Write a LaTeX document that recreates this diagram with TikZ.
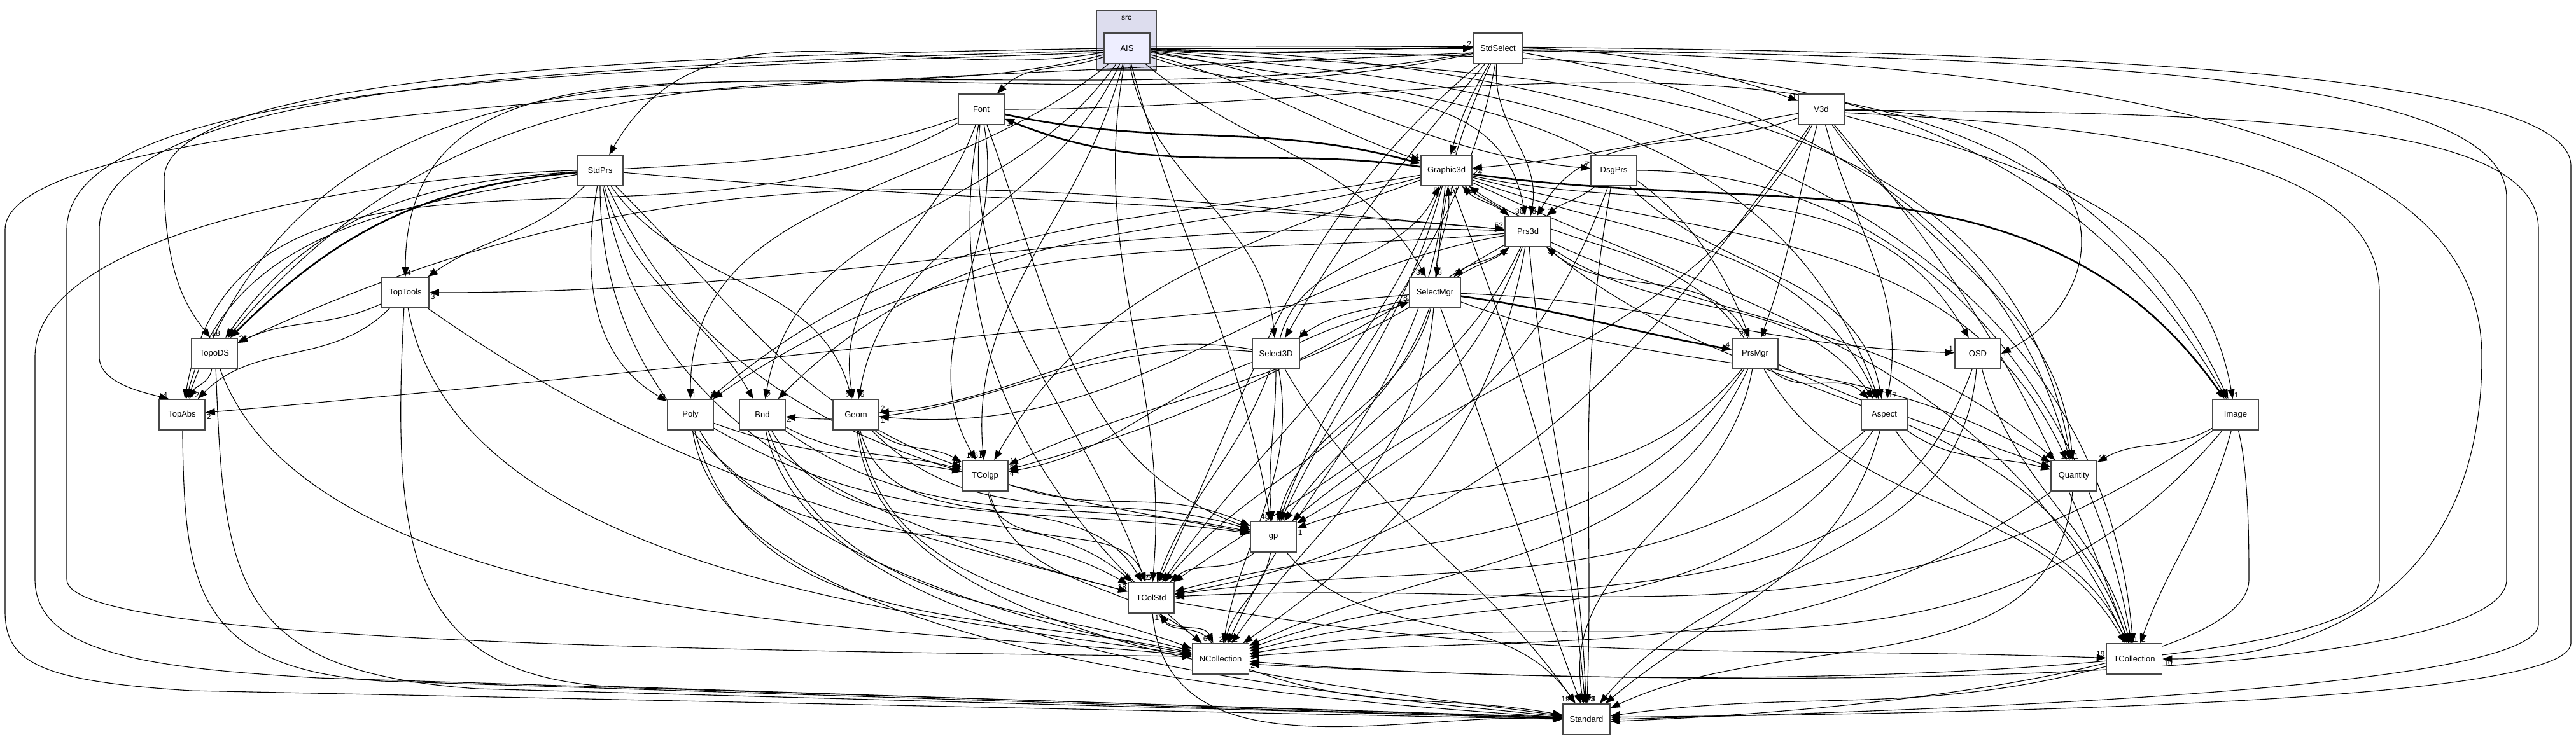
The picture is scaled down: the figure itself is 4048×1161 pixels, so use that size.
\documentclass[tikz,border=0pt]{standalone}
\usepackage{fontspec}
\setmainfont{Liberation Sans}
\usetikzlibrary{arrows.meta,backgrounds}
\definecolor{aisfill}{HTML}{EEEEFF}
\definecolor{clfill}{HTML}{DDDDEE}
\newcommand\dep[6][]{\draw[dep,#1] (#2) to[#4] node[lb,#5]{#6} (#3);}
\newcommand\depn[4][]{\draw[dep,#1] (#2) to[#4] (#3);}
\tikzset{
  box/.style={draw=black!72, line width=0.4pt, fill=white, minimum width=18pt, minimum height=12pt, inner sep=0.25pt, font=\fontsize{3.25}{3.75}\selectfont},
  dep/.style={-{Triangle[length=3.75pt,width=2.75pt]}, line width=0.28pt, black},
  heavy/.style={line width=0.65pt},
  lb/.style={pos=1, font=\fontsize{3}{3.5}\selectfont, inner sep=0.4pt},
  lAL/.style={anchor=south east}, lAR/.style={anchor=south west},
  lBL/.style={anchor=north east}, lBR/.style={anchor=north west},
  lR/.style={anchor=west}, lL/.style={anchor=east}
}
\begin{document}
\begin{tikzpicture}[x=0.25pt,y=0.25pt]
\useasboundingbox (0,0) rectangle (4048,1161);
\node[box,fill=aisfill] (AIS) at (1771,1085) {AIS};
\node[box,minimum width=19.5pt] (StdSelect) at (2354,1085) {StdSelect};
\node[box] (Font) at (1542,989) {Font};
\node[box] (V3d) at (2862,989) {V3d};
\node[box] (StdPrs) at (943,893) {StdPrs};
\node[box,minimum width=20pt] (Graphic3d) at (2273,893) {Graphic3d};
\node[box] (DsgPrs) at (2536,893) {DsgPrs};
\node[box] (Prs3d) at (2401,797) {Prs3d};
\node[box,minimum width=18.5pt] (TopTools) at (637,701) {TopTools};
\node[box,minimum width=20pt] (SelectMgr) at (2255,701) {SelectMgr};
\node[box] (TopoDS) at (337,605) {TopoDS};
\node[box,minimum width=18.5pt] (Select3D) at (2005,605) {Select3D};
\node[box] (PrsMgr) at (2758,605) {PrsMgr};
\node[box] (OSD) at (3108,605) {OSD};
\node[box] (TopAbs) at (286,509) {TopAbs};
\node[box] (Poly) at (1085,509) {Poly};
\node[box] (Bnd) at (1198,509) {Bnd};
\node[box] (Geom) at (1345,509) {Geom};
\node[box] (Aspect) at (2961,509) {Aspect};
\node[box] (Image) at (3513,509) {Image};
\node[box] (TColgp) at (1548,413) {TColgp};
\node[box] (Quantity) at (3259,413) {Quantity};
\node[box] (gp) at (2001,317) {gp};
\node[box] (TColStd) at (1809,221) {TColStd};
\node[box,minimum width=22.25pt] (NCollection) at (1918,125) {NCollection};
\node[box,minimum width=21.75pt] (TCollection) at (3354,125) {TCollection};
\node[box,minimum width=18.5pt] (Standard) at (2493,30) {Standard};
\begin{scope}[on background layer]
\node[draw=black!72, line width=0.4pt, fill=clfill, minimum width=23.5pt, minimum height=23.5pt, inner sep=0pt] (cluster) at (1770,1098) {};
\node[font=\fontsize{3}{3.5}\selectfont] (srclabel) at (1770,1133) {src};
% AIS
\dep{AIS}{StdSelect}{out=0,in=180}{lAL}{2}
\dep{AIS}{V3d}{out=-3,in=160}{lAL}{1}
\dep{AIS}{Font}{out=200,in=45}{lAR}{1}
\dep{AIS}{Graphic3d}{out=-15,in=160}{lAL}{14}
\dep{AIS}{DsgPrs}{out=-8,in=175}{lAL}{7}
\dep{AIS}{Prs3d}{out=-20,in=100}{lAL}{36}
\dep{AIS}{SelectMgr}{out=-40,in=120}{lAL}{39}
\dep{AIS}{Select3D}{out=-80,in=95}{lAL}{1}
\dep{AIS}{PrsMgr}{out=-10,in=110}{lAL}{24}
\dep{AIS}{Aspect}{out=-6,in=110}{lAL}{3}
\dep{AIS}{Quantity}{out=-4,in=100}{lAL}{2}
\dep{AIS}{Image}{out=-2,in=120}{lAL}{1}
\dep{AIS}{TCollection}{out=-1,in=95}{lAL}{8}
\dep{AIS}{TColStd}{out=-100,in=85}{lAL}{5}
\dep{AIS}{gp}{out=-75,in=100}{lAL}{48}
\dep{AIS}{TColgp}{out=-105,in=95}{lAL}{61}
\dep{AIS}{Geom}{out=-115,in=80}{lAR}{6}
\dep{AIS}{Bnd}{out=-125,in=80}{lAR}{2}
\dep{AIS}{Poly}{out=-140,in=90}{lAR}{1}
\dep{AIS}{StdPrs}{out=190,in=60}{lAR}{1}
\dep{AIS}{TopTools}{out=195,in=90}{lAR}{4}
\draw[dep] (AIS.180) .. controls (1200,1075) and (258,1060) .. (258,880) .. controls (258,720) and (300,670) .. (TopoDS.105) node[lb,lAR]{18};
\draw[dep] (AIS.185) .. controls (1000,1060) and (156,1040) .. (156,800) -- (156,600) .. controls (156,560) and (220,545) .. (TopAbs.130) node[lb,lAL]{4};
\draw[dep] (AIS.190) .. controls (900,1050) and (105,1030) .. (105,800) -- (105,250) .. controls (105,160) and (900,140) .. (NCollection.175) node[lb,lAL]{58};
\draw[dep] (AIS.5) .. controls (3000,1090) and (4040,1070) .. (4040,900) -- (4040,150) .. controls (4040,60) and (3200,40) .. (Standard.5);
% StdSelect
\dep{StdSelect}{Graphic3d}{out=-120,in=75}{lAR}{3}
\dep{StdSelect}{Prs3d}{out=-95,in=80}{lAR}{3}
\dep{StdSelect}{SelectMgr}{out=-115,in=85}{lAR}{8}
\dep{StdSelect}{Select3D}{out=-130,in=60}{lAR}{2}
\dep{StdSelect}{TColStd}{out=-140,in=65}{lAR}{5}
\dep{StdSelect}{gp}{out=-100,in=70}{lAR}{4}
\dep{StdSelect}{TopoDS}{out=190,in=50}{lAR}{2}
\dep{StdSelect}{TopAbs}{out=192,in=70}{lAR}{4}
\dep{StdSelect}{Quantity}{out=-10,in=105}{lAR}{1}
\draw[dep] (StdSelect.-5) .. controls (3500,1060) and (3900,900) .. (3900,600) .. controls (3900,200) and (3600,125) .. (TCollection.east) node[lb,lBR]{10};
\draw[dep] (StdSelect.190) .. controls (1500,1040) and (8,1000) .. (8,800) -- (8,200) .. controls (8,120) and (60,90) .. (300,75) -- (Standard.180);
\draw[dep] (StdSelect.-3) .. controls (3300,1070) and (3939,1040) .. (3939,850) -- (3939,250) .. controls (3939,90) and (2800,70) .. (NCollection.-10);
% Font
\dep[heavy]{Font}{Graphic3d}{out=-12,in=165}{lAL}{4}
\dep[heavy]{Graphic3d}{Font}{out=172,in=-22}{lBR}{3}
\dep{Font}{TopoDS}{out=200,in=55}{lAR}{2}
\dep{Font}{TopAbs}{out=210,in=80}{lAR}{1}
\dep{Font}{TColgp}{out=-80,in=120}{lAL}{10}
\depn{Font}{gp}{out=-70,in=160}
\depn{Font}{TColStd}{out=-95,in=110}
\depn{Font}{NCollection}{out=-100,in=140}
\dep{Font}{Image}{out=0,in=115}{lAL}{1}
\depn{Font}{Geom}{out=-110,in=100}
% V3d
\dep{V3d}{Graphic3d}{out=190,in=5}{lBR}{24}
\dep{V3d}{Prs3d}{out=200,in=60}{lAR}{3}
\dep{V3d}{PrsMgr}{out=-105,in=70}{lAR}{3}
\dep{V3d}{Aspect}{out=-75,in=80}{lAR}{17}
\dep{V3d}{Image}{out=-15,in=100}{lAR}{1}
\draw[dep] (V3d.east) .. controls (3350,985) and (3330,700) .. (OSD.east) node[lb,lR]{1};
\dep{V3d}{Quantity}{out=-55,in=95}{lAR}{1}
\dep{V3d}{TColStd}{out=-125,in=10}{lBR}{4}
\dep{V3d}{TCollection}{out=-50,in=110}{lAR}{11}
\dep{V3d}{gp}{out=-120,in=40}{lAR}{2}
\draw[dep] (V3d.-2) .. controls (3600,985) and (3989,960) .. (3989,800) -- (3989,180) .. controls (3989,90) and (3300,50) .. (Standard.0);
\draw[dep] (V3d.-8) .. controls (3400,960) and (3739,900) .. (3739,700) -- (3739,250) .. controls (3739,90) and (2600,70) .. (NCollection.-5) node[lb,lBR]{2};
% Graphic3d
\dep{Graphic3d}{Prs3d}{out=-40,in=140}{lAL}{1}
\dep{Graphic3d}{Aspect}{out=-20,in=115}{lAL}{25}
\dep[heavy]{Graphic3d}{Image}{out=-8,in=125}{lAL}{6}
\dep{Graphic3d}{Quantity}{out=-15,in=115}{lAL}{1}
\dep{Graphic3d}{OSD}{out=-12,in=120}{lAL}{2}
\dep{Graphic3d}{TColStd}{out=-110,in=55}{lAR}{6}
\dep{Graphic3d}{NCollection}{out=-95,in=65}{lAR}{22}
\dep{Graphic3d}{Standard}{out=-70,in=95}{lAR}{33}
\dep{Graphic3d}{TCollection}{out=-25,in=115}{lAL}{2}
\dep{Graphic3d}{gp}{out=-105,in=65}{lAR}{4}
\dep{Graphic3d}{Bnd}{out=195,in=45}{lAR}{1}
\dep{Graphic3d}{Poly}{out=190,in=40}{lAR}{2}
\depn{Graphic3d}{TColgp}{out=200,in=60}
% DsgPrs
\dep{DsgPrs}{Prs3d}{out=-140,in=40}{lAR}{25}
\dep{DsgPrs}{Standard}{out=-100,in=88}{lAL}{2}
\depn{DsgPrs}{gp}{out=-110,in=30}
\depn{DsgPrs}{TCollection}{out=0,in=100}
\depn{DsgPrs}{Aspect}{out=-45,in=100}
% StdPrs
\dep{StdPrs}{Prs3d}{out=-5,in=175}{lAL}{52}
\dep{StdPrs}{TopTools}{out=-135,in=35}{lAR}{1}
\dep[heavy]{StdPrs}{TopoDS}{out=185,in=45}{lAR}{3}
\depn{StdPrs}{TopAbs}{out=190,in=75}
\dep{StdPrs}{Poly}{out=-100,in=150}{lAL}{3}
\dep{StdPrs}{Bnd}{out=-75,in=120}{lAL}{1}
\dep{StdPrs}{Geom}{out=-55,in=105}{lAL}{2}
\dep{StdPrs}{TColgp}{out=-45,in=160}{lAL}{5}
\dep{StdPrs}{gp}{out=-65,in=170}{lAL}{57}
\dep{StdPrs}{TColStd}{out=-80,in=165}{lAL}{18}
\depn{StdPrs}{NCollection}{out=-90,in=170}
\draw[dep] (StdPrs.180) .. controls (600,885) and (55,800) .. (55,600) -- (55,250) .. controls (55,130) and (250,110) .. (500,95) -- (Standard.175);
% Prs3d
\dep{Prs3d}{Graphic3d}{out=140,in=-45}{lBR}{25}
\dep{Prs3d}{SelectMgr}{out=-140,in=40}{lAR}{2}
\dep{Prs3d}{TopTools}{out=178,in=0}{lBR}{3}
\dep{Prs3d}{TopoDS}{out=175,in=25}{lAR}{26}
\depn{Prs3d}{Poly}{out=185,in=35}
\dep{Prs3d}{Geom}{out=190,in=-5}{lBR}{1}
\dep{Prs3d}{TColgp}{out=-150,in=15}{lBR}{4}
\dep{Prs3d}{gp}{out=-115,in=55}{lAR}{9}
\dep{Prs3d}{TColStd}{out=-110,in=35}{lAR}{1}
\dep{Prs3d}{NCollection}{out=-100,in=35}{lR}{3}
\dep{Prs3d}{Standard}{out=-85,in=92}{lAR}{23}
\dep{Prs3d}{Aspect}{out=-35,in=125}{lAL}{1}
\dep{Prs3d}{Quantity}{out=-25,in=140}{lAL}{2}
\dep{Prs3d}{TCollection}{out=-40,in=110}{lAR}{2}
% SelectMgr
\dep{SelectMgr}{Graphic3d}{out=88,in=-85}{lBR}{14}
\dep{SelectMgr}{Prs3d}{out=35,in=-140}{lBL}{1}
\dep{SelectMgr}{Select3D}{out=-165,in=35}{lAR}{6}
\dep[heavy]{SelectMgr}{PrsMgr}{out=-8,in=170}{lAL}{4}
\dep{SelectMgr}{OSD}{out=-2,in=178}{lAL}{1}
\dep{SelectMgr}{TopAbs}{out=185,in=5}{lBR}{2}
\dep{SelectMgr}{TColgp}{out=-150,in=25}{lAR}{1}
\dep{SelectMgr}{gp}{out=-105,in=75}{lAR}{4}
\depn{SelectMgr}{TColStd}{out=-110,in=50}
\depn{SelectMgr}{NCollection}{out=-95,in=55}
\depn{SelectMgr}{Standard}{out=-70,in=110}
\depn{SelectMgr}{Quantity}{out=-20,in=150}
% Select3D
\dep{Select3D}{SelectMgr}{out=25,in=-160}{lAL}{8}
\dep{Select3D}{Graphic3d}{out=75,in=-115}{lBL}{5}
\dep{Select3D}{Bnd}{out=175,in=-5}{lBR}{4}
\dep{Select3D}{Geom}{out=170,in=5}{lAR}{2}
\dep{Select3D}{TColgp}{out=-160,in=10}{lAR}{5}
\depn{Select3D}{gp}{out=-90,in=95}
\dep{Select3D}{TColStd}{out=-110,in=70}{lAR}{5}
\dep{Select3D}{NCollection}{out=-80,in=80}{lAR}{4}
\depn{Select3D}{Standard}{out=-60,in=125}
% PrsMgr
\dep{PrsMgr}{Prs3d}{out=115,in=-40}{lBR}{3}
\dep{PrsMgr}{Graphic3d}{out=125,in=-35}{lBR}{9}
\dep{PrsMgr}{Aspect}{out=-45,in=135}{lAL}{1}
\dep{PrsMgr}{Quantity}{out=-25,in=160}{lAL}{1}
\dep{PrsMgr}{gp}{out=-130,in=20}{lBR}{1}
\depn{PrsMgr}{TColStd}{out=-125,in=15}
\depn{PrsMgr}{NCollection}{out=-115,in=25}
\depn{PrsMgr}{Standard}{out=-100,in=100}
\depn{PrsMgr}{TCollection}{out=-60,in=120}
% OSD
\dep{OSD}{TCollection}{out=-75,in=105}{lAL}{1}
\depn{OSD}{Standard}{out=-95,in=50}
\depn{OSD}{NCollection}{out=-110,in=20}
% TopTools, TopoDS, TopAbs
\dep{TopTools}{TopoDS}{out=-155,in=25}{lAR}{3}
\dep{TopTools}{TopAbs}{out=-135,in=45}{lBR}{2}
\depn{TopTools}{TColStd}{out=-35,in=165}
\depn[looseness=0.8]{TopTools}{NCollection}{out=-80,in=172}
\draw[dep] (TopTools.-95) .. controls (615,300) and (640,105) .. (950,82) -- (Standard.177);
\dep{TopoDS}{TopAbs}{out=-100,in=65}{lAR}{12}
\depn[looseness=0.7]{TopoDS}{NCollection}{out=-70,in=174}
\draw[dep] (TopoDS.-85) .. controls (352,250) and (362,105) .. (750,78) -- (Standard.178);
\draw[dep] (TopAbs.-88) .. controls (290,250) and (300,110) .. (600,90) -- (Standard.179);
% Poly, Bnd, Geom
\dep{Poly}{TColgp}{out=-20,in=170}{lAL}{5}
\dep{Poly}{gp}{out=-30,in=172}{lAL}{9}
\dep{Poly}{TColStd}{out=-60,in=150}{lAL}{1}
\depn{Poly}{NCollection}{out=-75,in=168}
\depn[looseness=0.65]{Poly}{Standard}{out=-82,in=176}
\dep{Bnd}{TColgp}{out=-28,in=165}{lAL}{5}
\depn{Bnd}{gp}{out=-35,in=168}
\dep{Bnd}{TColStd}{out=-60,in=140}{lAL}{5}
\depn{Bnd}{NCollection}{out=-70,in=165}
\depn[looseness=0.7]{Bnd}{Standard}{out=-78,in=174}
\depn{Geom}{TColgp}{out=-40,in=150}
\depn{Geom}{gp}{out=-45,in=163}
\dep{Geom}{TColStd}{out=-75,in=120}{lAR}{6}
\depn{Geom}{NCollection}{out=-80,in=160}
\depn[looseness=0.75]{Geom}{Standard}{out=-85,in=172}
% TColgp, gp, TColStd, NCollection
\depn{TColgp}{gp}{out=-20,in=155}
\dep{TColgp}{TColStd}{out=-80,in=110}{lAR}{5}
\depn{TColgp}{NCollection}{out=-75,in=140}
\dep{gp}{TColStd}{out=-140,in=40}{lAR}{1}
\dep{gp}{NCollection}{out=-100,in=75}{lAL}{2}
\dep{gp}{Standard}{out=-50,in=125}{lAL}{194}
\dep{TColStd}{NCollection}{out=-65,in=115}{lAL}{67}
\dep{TColStd}{TCollection}{out=-10,in=178}{lAL}{19}
\depn{TColStd}{Standard}{out=-85,in=178}
\dep{NCollection}{TColStd}{out=120,in=-60}{lBL}{1}
\depn{NCollection}{Standard}{out=-20,in=170}
% Aspect, Image, Quantity, TCollection
\dep{Aspect}{Quantity}{out=-35,in=165}{lAL}{5}
\dep{Aspect}{TCollection}{out=-55,in=115}{lAR}{2}
\depn{Aspect}{NCollection}{out=-125,in=15}
\depn{Aspect}{Standard}{out=-105,in=40}
\depn{Aspect}{TColStd}{out=-140,in=8}
\dep{Image}{Quantity}{out=-150,in=30}{lAR}{10}
\dep{Image}{TCollection}{out=-105,in=70}{lAR}{2}
\depn{Image}{NCollection}{out=-130,in=10}
\dep{Image}{TColStd}{out=-145,in=3}{lR}{1}
\draw[dep] (Image.-80) .. controls (3534,420) and (3534,300) .. (3534,250) .. controls (3534,120) and (3000,45) .. (Standard.-5);
\depn{Quantity}{Standard}{out=-95,in=25}
\dep{Quantity}{NCollection}{out=-145,in=5}{lR}{2}
\depn{TCollection}{Standard}{out=-165,in=8}
\end{scope}
\end{tikzpicture}
\end{document}
